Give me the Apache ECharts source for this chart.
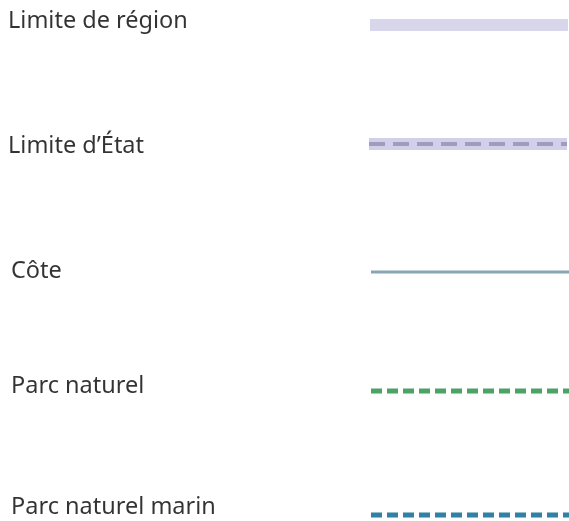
<!DOCTYPE html>
<html>
<head>
<meta charset="utf-8">
<script src="https://cdn.jsdelivr.net/npm/echarts@6/dist/echarts.min.js"></script>
<style>
  html, body { margin: 0; padding: 0; background: #fff; }
  #chart { width: 569px; height: 521px; }
</style>
</head>
<body>
<div id="chart"></div>
<script>
  // entrées de la légende
  const names = ['Limite de région', "Limite d\u2019État", 'Côte', 'Parc naturel', 'Parc naturel marin']
  // position de chaque ligne (axe vertical)
  const lineRows = [25, 144, 272, 391, 515]
  const labelRows = [21, 146, 271, 386, 507]
  // début / fin des traits (axe horizontal)
  const lineStart = [370, 369, 371, 371, 371]
  const lineEnd = [568, 567, 569, 569, 569]

  const chart = echarts.init(document.getElementById('chart'))

  // styles des traits
  const styles = [
    [{ color: '#d8d6eb', width: 12, type: 'solid' }],
    [{ color: '#d2d0e8', width: 12, type: 'solid' },
     { color: '#a09cbf', width: 4, type: [16, 8] }],
    [{ color: '#88a5b4', width: 3, type: 'solid' }],
    [{ color: '#4ca366', width: 5, type: [11, 5] }],
    [{ color: '#2f82a3', width: 5, type: [11, 5] }]
  ]

  const series = []
  names.forEach((name, i) => {
    styles[i].forEach(st => {
      series.push({
        type: 'line',
        name: name,
        silent: true,
        symbol: 'none',
        animation: false,
        lineStyle: { color: st.color, width: st.width, type: st.type, cap: 'butt' },
        data: [[lineStart[i], lineRows[i]], [lineEnd[i], lineRows[i]]]
      })
    })
  })

  // libellés
  series.push({
    type: 'scatter',
    symbolSize: 0,
    silent: true,
    animation: false,
    label: {
      show: true,
      position: 'right',
      distance: 0,
      color: '#000',
      textBorderWidth: 0,
      fontFamily: 'Noto Sans',
      fontSize: 23.5,
      formatter: p => p.data[2]
    },
    data: names.map((n, i) => [i < 2 ? 8 : 11, labelRows[i], n])
  })

  const option = {
    grid: { left: 0, right: 0, top: 0, bottom: 0 },
    xAxis: { type: 'value', min: 0, max: 569, show: false },
    yAxis: { type: 'value', min: 0, max: 521, inverse: true, show: false },
    series: series
  }
  chart.setOption(option)
</script>
</body>
</html>
